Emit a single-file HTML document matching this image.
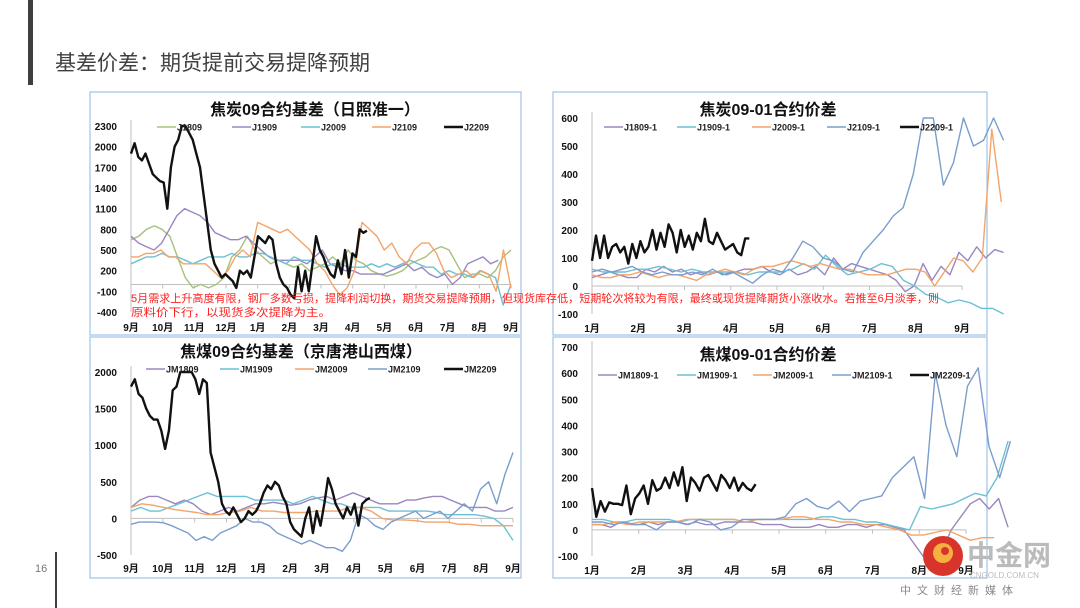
<!DOCTYPE html>
<html><head><meta charset="utf-8">
<style>
html,body{margin:0;padding:0;background:#fff;}
svg{display:block;font-family:"Liberation Sans","Noto Sans CJK SC",sans-serif;}
</style></head>
<body>
<svg id="s" width="1080" height="608" viewBox="0 0 1080 608" xmlns="http://www.w3.org/2000/svg">
<rect x="28" y="0" width="5" height="85" fill="#3f3f3f"/>
<text x="55" y="70" font-size="21" fill="#404040">基差价差：期货提前交易提降预期</text>
<rect x="55" y="552" width="2" height="56" fill="#3f3f3f"/>
<text x="35" y="572" font-size="11" fill="#777">16</text>
<rect x="90" y="92" width="431" height="243" fill="none" stroke="#9dc3e6" stroke-width="1.2"/>
<rect x="553" y="92" width="434" height="243" fill="none" stroke="#9dc3e6" stroke-width="1.2"/>
<rect x="90" y="337" width="431" height="241" fill="none" stroke="#9dc3e6" stroke-width="1.2"/>
<rect x="553" y="337" width="434" height="241" fill="none" stroke="#9dc3e6" stroke-width="1.2"/>
<g id="charts"></g>
<g>
<text x="131" y="302" font-size="11" fill="#ff2020" textLength="808" lengthAdjust="spacingAndGlyphs">5月需求上升高度有限，钢厂多数亏损，提降利润切换，期货交易提降预期，但现货库存低，短期轮次将较为有限，最终或现货提降期货小涨收水。若推至6月淡季，则</text>
<text x="131" y="316" font-size="11" fill="#ff2020" textLength="200" lengthAdjust="spacingAndGlyphs">原料价下行，以现货多次提降为主。</text>
</g>
<g>
<circle cx="943" cy="556" r="20" fill="#d9342b"/>
<circle cx="943" cy="553" r="10" fill="#f5b041"/>
<circle cx="945" cy="551" r="4" fill="#d9342b"/>
<text x="967" y="565" font-size="28" font-weight="bold" fill="#bbbbbb">中金网</text>
<text x="970" y="578" font-size="8" fill="#bbbbbb">CNGOLD.COM.CN</text>
<text x="900" y="594" font-size="11" fill="#888" letter-spacing="6">中文财经新媒体</text>
</g>
</svg>
<script>
// ---------- Chart 1: 焦炭09合约基差 ----------
const c1Months = ["9月","10月","11月","12月","1月","2月","3月","4月","5月","6月","7月","8月","9月"];
const c1Ticks = [2300,2000,1700,1400,1100,800,500,200,-100,-400];
const c1Names = ["J1809","J1909","J2009","J2109","J2209"];
const c1J1809 = [650,700,800,850,800,700,400,100,-50,0,-50,0,100,400,500,700,500,400,300,350,300,250,300,200,250,300,400,300,500,350,300,200,150,120,150,200,300,350,400,500,550,500,300,100,150,150,100,200,400,500];
const c1J1909 = [700,600,550,500,600,800,1000,1100,1050,1000,900,750,700,650,650,700,600,500,400,350,350,350,350,300,400,500,300,250,200,200,150,150,150,150,200,250,300,200,250,150,100,150,0,100,300,350,400,300,350];
const c1J2009 = [300,350,400,400,450,400,400,350,300,350,400,400,400,450,400,400,450,450,400,350,300,400,350,350,300,250,300,300,250,250,250,300,250,300,250,300,350,300,250,250,150,200,150,150,100,200,150,100,-300,0];
const c1J2109 = [400,400,450,450,500,400,400,300,300,300,300,200,100,200,400,500,400,900,850,800,750,800,700,600,500,300,200,0,-150,-50,200,900,800,700,500,600,400,300,500,600,600,450,200,100,150,200,100,200,150,-100,500,-50];
const c1J2209 = [1900,2050,1850,1800,1900,1750,1600,1550,1500,1480,1100,1700,2000,2100,2300,2350,2200,2100,1900,1700,1300,900,500,300,200,100,150,100,50,-50,200,150,200,100,400,700,650,600,700,650,300,100,0,-50,-150,-200,250,-100,200,-100,300,700,500,400,250,150,100,350,150,500,100,450,400,800,750,780];

// ---------- Chart 2: 焦炭09-01合约价差 ----------
const c2Months = ["1月","2月","3月","4月","5月","6月","7月","8月","9月"];
const c2Ticks = [600,500,400,300,200,100,0,-100];
const c2Names = ["J1809-1","J1909-1","J2009-1","J2109-1","J2209-1"];
const c2J1809 = [30,40,50,40,30,30,60,50,70,50,60,40,50,40,50,40,50,60,60,70,50,40,60,40,50,70,40,100,60,80,70,60,50,40,20,-20,0,80,20,70,40,120,90,140,100,130,120];
const c2J1909 = [60,50,50,50,60,60,70,60,50,60,50,50,50,50,40,50,50,50,60,80,60,110,70,40,50,60,80,70,20,0,-30,-40,-60,-50,-60,-80,-80,-100];
const c2J2009 = [40,30,30,40,40,50,40,30,40,40,30,20,40,50,60,50,40,60,70,70,80,90,80,70,80,70,60,60,50,40,40,40,50,60,60,50,0,50,100,90,50,100,560,300];
const c2J2109 = [50,60,50,60,70,50,40,50,40,40,50,40,60,40,50,30,10,40,60,50,100,160,140,100,90,60,50,120,160,200,250,280,400,600,600,360,440,600,500,520,600,520];
const c2J2209 = [90,180,100,180,100,140,150,120,140,80,150,100,160,120,140,200,130,190,140,220,190,120,200,140,180,130,190,160,240,160,150,190,160,130,140,150,120,110,170,170];

// ---------- Chart 3: 焦煤09合约基差 ----------
const c3Months = ["9月","10月","11月","12月","1月","2月","3月","4月","5月","6月","7月","8月","9月"];
const c3Ticks = [2000,1500,1000,500,0,-500];
const c3Names = ["JM1809","JM1909","JM2009","JM2109","JM2209"];
const c3JM1809 = [150,250,300,300,250,200,250,200,100,50,100,150,100,150,200,200,220,200,180,200,250,280,300,250,300,350,300,250,200,200,200,250,250,280,300,300,250,200,150,150,150,100,100,150];
const c3JM1909 = [100,150,100,100,150,200,250,300,350,300,300,300,300,250,250,250,250,200,250,300,250,200,200,150,150,150,150,100,100,100,100,100,80,50,50,50,50,30,0,-100,-300];
const c3JM2009 = [150,200,180,150,120,100,80,50,50,80,100,150,100,100,80,80,80,100,100,100,150,150,100,0,-20,-20,-30,-50,-50,-50,-80,-80,-100,-100,-100,-100];
const c3JM2109 = [-80,-50,-50,-50,-60,-100,-150,-200,-300,-250,-300,-200,-150,-100,0,-50,-50,-100,-200,-250,-300,-350,-300,-350,-400,-400,-450,-300,50,0,-100,-150,-50,0,50,100,0,50,100,0,100,200,100,400,500,200,600,900];
const c3JM2209 = [1800,1900,1700,1650,1500,1400,1350,1350,1200,950,1200,1750,1800,2000,2150,2100,2000,1900,1700,1900,1850,900,700,500,200,100,50,150,50,-50,0,100,50,100,200,350,450,400,500,450,300,200,-50,-150,-200,-250,0,150,-200,100,-100,200,550,400,200,100,0,150,50,200,-100,200,250,280];

// ---------- Chart 4: 焦煤09-01合约价差 ----------
const c4Months = ["1月","2月","3月","4月","5月","6月","7月","8月","9月"];
const c4Ticks = [700,600,500,400,300,200,100,0,-100];
const c4Names = ["JM1809-1","JM1909-1","JM2009-1","JM2109-1","JM2209-1"];
const c4JM1809 = [20,20,10,30,20,20,30,20,30,30,20,30,20,20,30,30,30,30,20,20,20,10,10,10,20,10,10,20,20,10,20,20,10,0,-50,-100,-100,-80,0,50,100,120,80,120,10];
const c4JM1909 = [40,40,30,30,40,40,40,40,30,40,40,40,40,40,30,40,40,40,40,40,40,50,50,40,40,30,30,20,10,0,90,80,90,100,120,140,130,200,340];
const c4JM2009 = [20,20,30,20,30,30,30,30,40,40,40,40,40,30,40,40,40,50,50,40,40,30,30,20,20,10,0,-20,-20,-10,0,-20,-40,-30,-30];
const c4JM2109 = [30,30,20,30,20,20,0,30,30,20,40,30,0,10,40,40,40,40,50,100,120,90,80,110,70,110,120,130,200,240,280,120,600,400,280,550,620,320,200,340];
const c4JM2209 = [160,50,110,70,105,100,100,95,170,60,120,140,170,100,190,150,160,200,160,220,170,240,110,200,180,150,200,210,180,150,210,190,160,200,150,180,160,150,175];

const NS = "http://www.w3.org/2000/svg";
const root = document.getElementById("charts");
function mk(tag, attrs, parent){const e=document.createElementNS(NS,tag);for(const k in attrs)e.setAttribute(k,attrs[k]);(parent||root).appendChild(e);return e;}

function drawChart(cfg){
  const g = mk("g",{});
  
  
  const xScale = m => cfg.x0 + (cfg.x1 - cfg.x0) * m / (cfg.months.length - 1);
  const yScale = v => cfg.yTop + (cfg.yBot - cfg.yTop) * (cfg.vTop - v) / (cfg.vTop - cfg.vBot);
  const t = mk("text",{x:cfg.titleX,y:cfg.titleY,"font-size":16,"text-anchor":"middle",fill:"#111","font-weight":"bold"},g);
  t.textContent = cfg.title;
  
  
  const ya = mk("line",{x1:cfg.x0,x2:cfg.x0,y1:cfg.yTop-6,y2:cfg.yBot,stroke:"#bfbfbf","stroke-width":1},g);
  
  
  cfg.ticks.forEach(v=>{
    const l = mk("text",{x:cfg.x0-14,y:yScale(v)+4,"font-size":10,"font-weight":"bold","text-anchor":"end",fill:"#111"},g);
    l.textContent = v;
    
    
  });
  const za = mk("line",{x1:cfg.x0,x2:cfg.x1,y1:yScale(0),y2:yScale(0),stroke:"#bfbfbf","stroke-width":1},g);
  
  
  cfg.months.forEach((m,i)=>{
    mk("line",{x1:xScale(i),x2:xScale(i),y1:yScale(0),y2:yScale(0)+4,stroke:"#bfbfbf"},g);
    const l = mk("text",{x:xScale(i),y:cfg.labY,"font-size":10,"font-weight":"bold","text-anchor":"middle",fill:"#111"},g);
    l.textContent = m;
    
    
  });
  const clip = cfg.vTop;
  cfg.series.forEach((s,k)=>{
    const n = s.data.length;
    const pts = s.data.map((v,i)=>{
      const m = s.start + (s.end - s.start) * i / (n - 1);
      return xScale(m).toFixed(1)+","+yScale(Math.min(v,clip)).toFixed(1);
    }).join(" ");
    const p = mk("polyline",{points:pts,fill:"none",stroke:s.color,"stroke-width":s.w,"stroke-linejoin":"round"},g);
    
    
  });
  cfg.names.forEach((nm,k)=>{
    const lx = cfg.legX[k], s = cfg.series[k];
    const ll = mk("line",{x1:lx,x2:lx+19,y1:cfg.legY,y2:cfg.legY,stroke:s.color,"stroke-width":s.w},g);
    
    
    const lt = mk("text",{x:lx+20,y:cfg.legY+3.5,"font-size":9,"font-weight":"bold",fill:"#222"},g);
    lt.textContent = nm;
    
    
  });
}
const GREEN="#a5c27a", PURPLE="#9a86c0", TEAL="#6cc0d4", ORANGE="#f2a46a", BLUE="#7b9dcc", BLACK="#111";

drawChart({id:"chart-coke-basis",title:"焦炭09合约基差（日照准一）",titleX:315,titleY:115,
  months:c1Months,ticks:c1Ticks,names:c1Names,x0:131,x1:511,yTop:126,yBot:312,vTop:2300,vBot:-400,labY:331,
  legY:127,legX:[157,232,301,372,444],
  series:[{data:c1J1809,start:0,end:12,color:GREEN,w:1.4},{data:c1J1909,start:0,end:11.6,color:PURPLE,w:1.4},
    {data:c1J2009,start:0,end:12,color:TEAL,w:1.4},{data:c1J2109,start:0,end:12,color:ORANGE,w:1.4},
    {data:c1J2209,start:0,end:7.45,color:BLACK,w:2.4}]});

drawChart({id:"chart-coke-spread",title:"焦炭09-01合约价差",titleX:768,titleY:115,
  months:c2Months,ticks:c2Ticks,names:c2Names,x0:592,x1:962,yTop:118,yBot:314,vTop:600,vBot:-100,labY:332,
  legY:127,legX:[604,677,752,827,900],
  series:[{data:c2J1809,start:0,end:8.9,color:PURPLE,w:1.4},{data:c2J1909,start:0,end:8.9,color:TEAL,w:1.4},
    {data:c2J2009,start:0,end:8.85,color:ORANGE,w:1.4},{data:c2J2109,start:0,end:8.9,color:BLUE,w:1.4},
    {data:c2J2209,start:0,end:3.4,color:BLACK,w:2.4}]});

drawChart({id:"chart-coking-coal-basis",title:"焦煤09合约基差（京唐港山西煤）",titleX:301,titleY:357,
  months:c3Months,ticks:c3Ticks,names:c3Names,x0:131,x1:513,yTop:372,yBot:555,vTop:2000,vBot:-500,labY:572,
  legY:369,legX:[146,220,295,368,444],
  series:[{data:c3JM1809,start:0,end:12,color:PURPLE,w:1.4},{data:c3JM1909,start:0,end:12,color:TEAL,w:1.4},
    {data:c3JM2009,start:0,end:12,color:ORANGE,w:1.4},{data:c3JM2109,start:0,end:12,color:BLUE,w:1.4},
    {data:c3JM2209,start:0,end:7.5,color:BLACK,w:2.4}]});

drawChart({id:"chart-coking-coal-spread",title:"焦煤09-01合约价差",titleX:768,titleY:360,
  months:c4Months,ticks:c4Ticks,names:c4Names,x0:592,x1:966,yTop:347,yBot:556,vTop:700,vBot:-100,labY:574,
  legY:375,legX:[598,677,753,832,910],
  series:[{data:c4JM1809,start:0,end:8.9,color:PURPLE,w:1.4},{data:c4JM1909,start:0,end:8.9,color:TEAL,w:1.4},
    {data:c4JM2009,start:0,end:8.6,color:ORANGE,w:1.4},{data:c4JM2109,start:0,end:8.95,color:BLUE,w:1.4},
    {data:c4JM2209,start:0,end:3.5,color:BLACK,w:2.4}]});
</script>
</body></html>
